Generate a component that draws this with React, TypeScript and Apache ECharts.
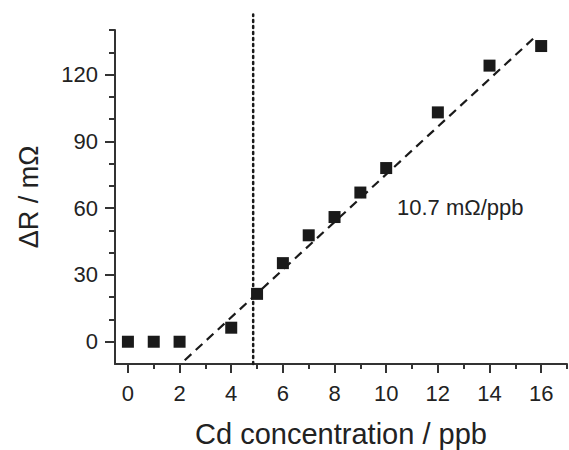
import React, { useEffect, useRef } from "react";
import * as echarts from "echarts";

const concentration = [0, 1, 2, 4, 5, 6, 7, 8, 9, 10, 12, 14, 16];
const deltaR = [0, 0, 0, 6.3, 21.5, 35.3, 47.8, 56, 67, 78, 103, 124, 132.8];
const fitLine = [
  [2.2, -8.3],
  [15.85, 137.8],
];
const detectionLimit = [
  [4.85, -10],
  [4.85, 147],
];
const xMajorTicks = [0, 2, 4, 6, 8, 10, 12, 14, 16];
const xMinorTicks = [1, 3, 5, 7, 9, 11, 13, 15, 17];
const yMajorTicks = [0, 30, 60, 90, 120];
const yMinorTicks = [10, 20, 40, 50, 70, 80, 100, 110, 130, 140];
const xTitle = "Cd concentration / ppb";
const yTitle = "ΔR / mΩ";
const slopeLabel = "10.7 mΩ/ppb";

const FONT = "Liberation Sans";
const INK = "#222";

export default function App() {
  const ref = useRef<HTMLDivElement>(null);
  useEffect(() => {
    if (!ref.current) return;
    const chart = echarts.init(ref.current, null, { renderer: "svg" });
    const xMin = -0.5;
    const xMax = 17;
    const yMin = -10;
    const yMax = 140;
    chart.setOption({
      animation: false,
      backgroundColor: "#fff",
      grid: {
        left: 115,
        right: 2,
        top: 30,
        bottom: 86,
        containLabel: false,
        outerBoundsMode: "none",
      },
      xAxis: [
        {
          type: "value",
          min: xMin,
          max: xMax,
          position: "bottom",
          name: xTitle,
          nameLocation: "middle",
          nameGap: 55,
          nameTextStyle: { fontSize: 29, color: INK, fontFamily: FONT },
          axisLine: { show: true, onZero: false, lineStyle: { color: "#333", width: 2 } },
          axisTick: {
            show: true,
            inside: false,
            length: 9,
            customValues: xMajorTicks,
            lineStyle: { color: "#333", width: 2 },
          },
          axisLabel: {
            show: true,
            customValues: xMajorTicks,
            margin: 18,
            fontSize: 22,
            color: INK,
            fontFamily: FONT,
          },
          splitLine: { show: false },
        },
        {
          type: "value",
          min: xMin,
          max: xMax,
          position: "bottom",
          axisLine: { show: false, onZero: false },
          axisTick: {
            show: true,
            length: 5,
            customValues: xMinorTicks,
            lineStyle: { color: "#333", width: 2 },
          },
          axisLabel: { show: false },
          splitLine: { show: false },
        },
      ],
      yAxis: [
        {
          type: "value",
          min: yMin,
          max: yMax,
          position: "left",
          name: yTitle,
          nameLocation: "middle",
          nameGap: 73,
          nameTextStyle: { fontSize: 27, color: INK, fontFamily: FONT },
          axisLine: { show: true, onZero: false, lineStyle: { color: "#333", width: 2 } },
          axisTick: {
            show: true,
            length: 10,
            customValues: yMajorTicks,
            lineStyle: { color: "#333", width: 2 },
          },
          axisLabel: {
            show: true,
            customValues: yMajorTicks,
            margin: 17,
            fontSize: 22,
            color: INK,
            fontFamily: FONT,
          },
          splitLine: { show: false },
        },
        {
          type: "value",
          min: yMin,
          max: yMax,
          position: "left",
          axisLine: { show: false, onZero: false },
          axisTick: {
            show: true,
            length: 6,
            customValues: yMinorTicks,
            lineStyle: { color: "#333", width: 2 },
          },
          axisLabel: { show: false },
          splitLine: { show: false },
        },
      ],
      series: [
        {
          type: "line",
          data: detectionLimit,
          xAxisIndex: 0,
          yAxisIndex: 0,
          clip: false,
          symbol: "none",
          lineStyle: { color: "#1a1a1a", width: 2.5, type: [2, 4], cap: "round" },
          silent: true,
          z: 1,
        },
        {
          type: "line",
          data: fitLine,
          xAxisIndex: 0,
          yAxisIndex: 0,
          clip: false,
          symbol: "none",
          lineStyle: { color: "#1a1a1a", width: 2.2, type: [9, 6] },
          silent: true,
          z: 2,
        },
        {
          type: "scatter",
          data: concentration.map((c, i) => [c, deltaR[i]]),
          xAxisIndex: 0,
          yAxisIndex: 0,
          symbol: "rect",
          symbolSize: 12,
          itemStyle: { color: "#1a1a1a", opacity: 1 },
          z: 3,
        },
      ],
      graphic: [
        {
          type: "text",
          left: 397,
          top: 196,
          style: {
            text: slopeLabel,
            fontSize: 22,
            fontFamily: FONT,
            fill: INK,
          },
        },
      ],
    });
    return () => chart.dispose();
  }, []);
  return (
    <div
      ref={ref}
      style={{ position: "absolute", left: 0, top: 0, width: 569, height: 450 }}
    />
  );
}
